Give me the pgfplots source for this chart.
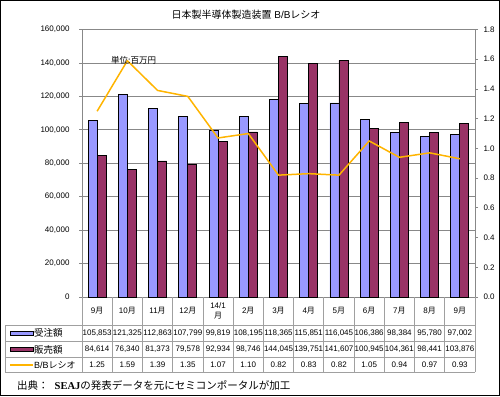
\documentclass[border=0pt]{standalone}
\usepackage{pgfplots}
\pgfplotsset{compat=1.18}
\usepackage{fontspec}
\setmainfont{Liberation Sans}
\newfontfamily\cjk{Noto Sans CJK JP}
\newfontfamily\serifbf{Liberation Serif}
\newcommand{\M}{{\cjk 月}}
\definecolor{ordc}{HTML}{9999FF}
\definecolor{salc}{HTML}{993366}
\definecolor{bbc}{HTML}{FFB400}
\definecolor{gridc}{HTML}{888888}
\definecolor{tabc}{HTML}{A0A0A0}
\begin{document}
\begin{tikzpicture}
\useasboundingbox (0,0) rectangle (500pt,-396pt);
\begin{axis}[
  at={(82pt,-297pt)}, anchor=south west, scale only axis,
  width=393pt, height=267.5pt,
  xmin=-0.5, xmax=12.5, ymin=0, ymax=160000,
  xtick=\empty, ytick={0,20000,40000,60000,80000,100000,120000,140000,160000}, ytick pos=left,
  ymajorgrids, grid style={gridc, line width=0.8pt},
  axis line style={gridc, line width=0.8pt},
  tick style={gridc, line width=0.8pt}, tick align=outside, major tick length=3pt,
  scaled y ticks=false,
  /pgf/number format/assume math mode=true,
  yticklabel style={/pgf/number format/fixed, /pgf/number format/1000 sep={,}, font=\fontsize{8}{9}\selectfont, xshift=-6pt},
  ybar=0pt, bar width=9pt,
]
\addplot[fill=ordc, draw=black, line width=0.8pt] coordinates {
(0,105853) (1,121325) (2,112863) (3,107799) (4,99819) (5,108195) (6,118365)
(7,115851) (8,116045) (9,106386) (10,98384) (11,95780) (12,97002)};
\addplot[fill=salc, draw=black, line width=0.8pt] coordinates {
(0,84614) (1,76340) (2,81373) (3,79578) (4,92934) (5,98746) (6,144045)
(7,139751) (8,141607) (9,100945) (10,104361) (11,98441) (12,103876)};
\end{axis}
\begin{axis}[
  at={(82pt,-297pt)}, anchor=south west, scale only axis,
  width=393pt, height=267.5pt,
  xmin=-0.5, xmax=12.5, ymin=0, ymax=1.8,
  axis x line=none, axis y line*=right,
  ytick={0,0.2,0.4,0.6,0.8,1.0,1.2,1.4,1.6,1.8},
  axis line style={gridc, line width=0.8pt},
  tick style={gridc, line width=0.8pt}, tick align=outside, major tick length=3pt,
  /pgf/number format/assume math mode=true,
  yticklabel style={/pgf/number format/fixed, /pgf/number format/fixed zerofill, /pgf/number format/precision=1, font=\fontsize{8}{9}\selectfont, xshift=2pt},
]
\addplot[bbc, line width=1.5pt, mark=none] coordinates {
(0,1.25) (1,1.59) (2,1.39) (3,1.35) (4,1.07) (5,1.10) (6,0.82)
(7,0.83) (8,0.82) (9,1.05) (10,0.94) (11,0.97) (12,0.93)};
\end{axis}
\begin{scope}[x=1pt,y=-1pt]
  % frame
  \draw[line width=1.2pt] (0.6,0.6) rectangle (499.4,395.4);
  % title
  \node[font=\fontsize{10}{12}\selectfont] at (246,15) {{\cjk 日本製半導体製造装置} B/B{\cjk レシオ}};
  \node[anchor=west, font=\fontsize{8.5}{10}\selectfont, inner sep=0] at (111,60) {\cjk 単位:百万円};
  % table grid
  \foreach \yy in {325,341.7,357.7,372} \draw[tabc, line width=0.8pt] (5,\yy) -- (475,\yy);
  \draw[tabc, line width=0.8pt] (5,325) -- (5,372);
  \foreach \i in {0,...,13} \draw[tabc, line width=0.8pt] ({82+\i*30.2308},297) -- ({82+\i*30.2308},372);
  % categories
  \foreach \c [count=\i from 0] in {{9\M},{10\M},{11\M},{12\M},{14/1\\\M},{2\M},{3\M},{4\M},{5\M},{6\M},{7\M},{8\M},{9\M}}
    \node[font=\fontsize{8}{9.5}\selectfont, inner sep=0, align=center] at ({82+(\i+0.5)*30.2308},311) {\c};
  % legend keys
  \draw[fill=ordc, line width=0.8pt] (10,331.5) rectangle (33,335.2);
  \node[anchor=west, inner sep=0, font=\fontsize{9.5}{11}\selectfont] at (34,333.3) {\cjk 受注額};
  \draw[fill=salc, line width=0.8pt] (10,347.8) rectangle (33,351.5);
  \node[anchor=west, inner sep=0, font=\fontsize{9.5}{11}\selectfont] at (34,349.7) {\cjk 販売額};
  \draw[bbc, line width=1.5pt] (10,365) -- (33,365);
  \node[anchor=west, inner sep=0, font=\fontsize{9}{11}\selectfont] at (34,365) {B/B{\cjk レシオ}};
  % values
  \foreach \v [count=\i from 0] in {{105,853},{121,325},{112,863},{107,799},{99,819},{108,195},{118,365},{115,851},{116,045},{106,386},{98,384},{95,780},{97,002}}
    \node[font=\fontsize{8}{9}\selectfont, inner sep=0] at ({82+(\i+0.5)*30.2308},333.3) {\v};
  \foreach \v [count=\i from 0] in {{84,614},{76,340},{81,373},{79,578},{92,934},{98,746},{144,045},{139,751},{141,607},{100,945},{104,361},{98,441},{103,876}}
    \node[font=\fontsize{8}{9}\selectfont, inner sep=0] at ({82+(\i+0.5)*30.2308},349.7) {\v};
  \foreach \v [count=\i from 0] in {1.25,1.59,1.39,1.35,1.07,1.10,0.82,0.83,0.82,1.05,0.94,0.97,0.93}
    \node[font=\fontsize{8}{9}\selectfont, inner sep=0] at ({82+(\i+0.5)*30.2308},365) {\v};
  % source
  \node[anchor=west, inner sep=0, font=\fontsize{10.5}{12}\selectfont] at (17,385) {{\cjk 出典：}\hspace{6pt}{\serifbf\bfseries SEAJ}{\cjk の発表データを元にセミコンポータルが加工}};
\end{scope}
\end{tikzpicture}
\end{document}
